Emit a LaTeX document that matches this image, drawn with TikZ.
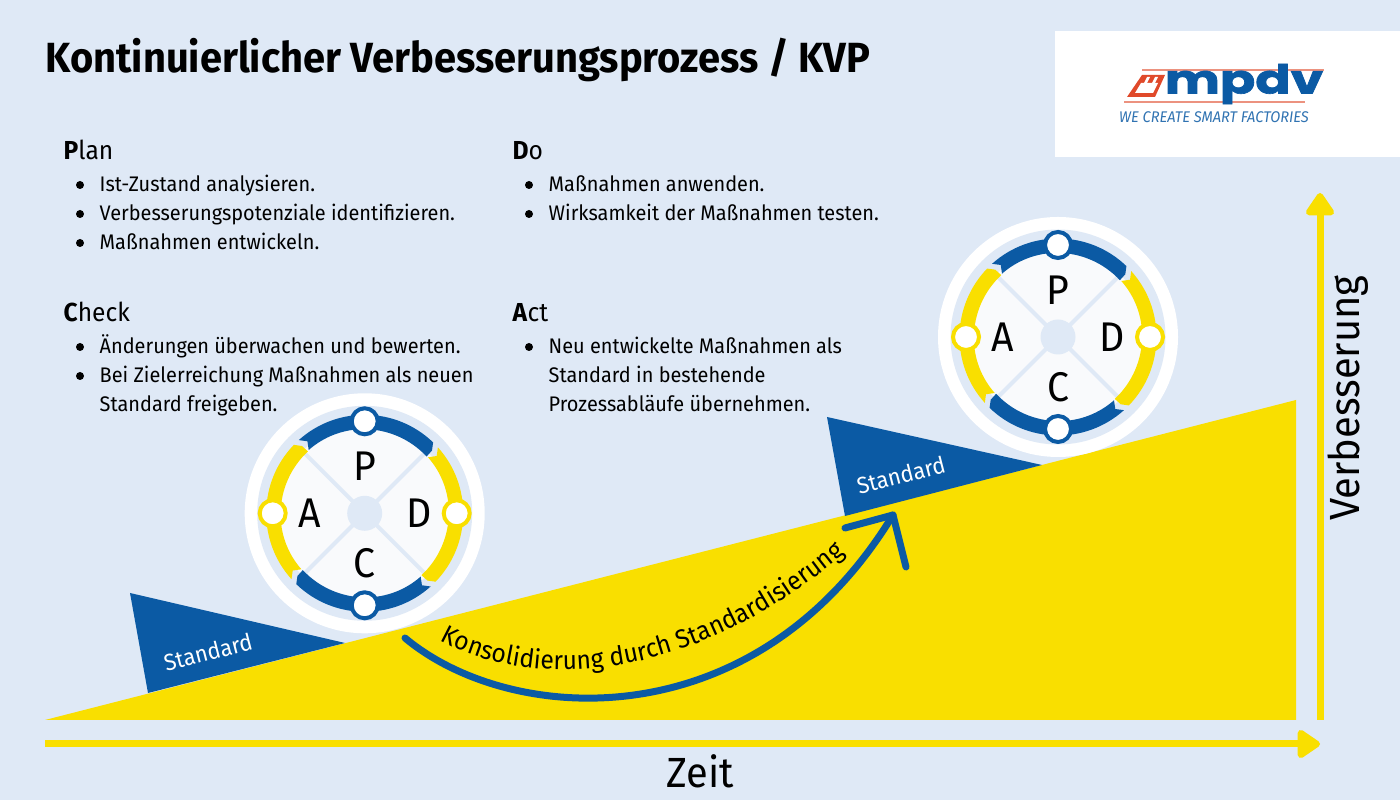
\documentclass[tikz,border=0pt]{standalone}
\usepackage{xcolor}
\usepackage{fontspec}
\setmainfont{Fira Sans}[FakeStretch=0.945]
\newfontfamily\logofont{Poppins}[FakeBold=1.6]
\usetikzlibrary{arrows.meta,decorations.text}
\definecolor{mpbg}{HTML}{DFE9F6}
\definecolor{mpyellow}{HTML}{F9DF00}
\definecolor{mpblue}{HTML}{0B5AA4}
\definecolor{mpred}{HTML}{E0492A}
\definecolor{mpdisc}{HTML}{F9FAFC}
\tikzset{
  itemtext/.style={anchor=base west,inner sep=0pt,font=\fontsize{6}{7}\selectfont},
  headtext/.style={anchor=base west,inner sep=0pt,font=\fontsize{7.4}{9}\selectfont},
  stdtext/.style={inner sep=0pt,white,rotate=14.4,font=\fontsize{6.6}{8}\selectfont},
  axistext/.style={inner sep=0pt,font=\fontsize{12}{14}\selectfont},
  axisline/.style={mpyellow,line width=0.07cm,-{Triangle[length=0.25cm,width=0.32cm,round]}},
  curveline/.style={mpblue,line width=0.07cm,line cap=round,line join=round},
  knob/.style={circle,fill=white,line width=0.04cm,minimum size=0.26cm,inner sep=0pt},
  pics/pdcawheel/.style={code={
    \fill[white] (0,0) circle (1.20);
    \fill[mpbg] (0,0) circle (1.075);
    \fill[mpdisc] (0,0) circle (0.88);
    \foreach \ang in {45,135,225,315}
      \draw[mpbg,line width=0.04cm] (0,0) -- (\ang:0.93);
    \fill[mpbg] (0,0) circle (0.175);
    % bands and knobs, one per quarter
    \foreach \rot/\col/\ltr/\dist in {0/mpblue/P/0.47,-90/mpyellow/D/0.54,180/mpblue/C/0.50,90/mpyellow/A/0.55}{
      \fill[\col,rotate=\rot] (46:0.985) arc[start angle=46,end angle=132,radius=0.985]
        -- (128.5:0.92) -- (131.5:0.845) arc[start angle=131.5,end angle=90,radius=0.83]
        arc[start angle=90,end angle=43,radius=0.86] -- (43:0.92) -- cycle;
      \node[knob,draw=\col] (-knob\ltr) at (\rot+90:0.92) {};
      \node[inner sep=0pt,font=\fontsize{11.8}{13}\selectfont] (-letter\ltr) at (\rot+90:\dist) {\ltr};
    }
  }}
}
\begin{document}
\begin{tikzpicture}
  \useasboundingbox (0,0) rectangle (14,8);
  \fill[mpbg] (0,0) rectangle (14,8);

  % Title
  \node[anchor=base west,inner sep=0pt,font=\fontsize{12}{14}\selectfont\bfseries] (title) at (0.45,7.27) {Kontinuierlicher Verbesserungsprozess / KVP};

  % Logo
  \fill[white] (10.55,6.43) rectangle (14,7.69);
  \draw[mpred!60,line width=0.012cm] (11.42,7.30) -- (13.24,7.30);
  \draw[mpred!60,line width=0.012cm] (11.24,6.98) -- (13.05,6.98);
  \fill[mpred] (11.27,7.03) -- (11.42,7.25) -- (11.65,7.25) -- (11.55,7.03) -- cycle;
  \fill[white] (11.35,7.07) -- (11.53,7.07) -- (11.58,7.17) -- (11.41,7.17) -- cycle;
  \fill[white] (11.44,7.17) -- (11.47,7.17) -- (11.50,7.23) -- (11.47,7.23) -- cycle;
  \fill[white] (11.52,7.17) -- (11.55,7.17) -- (11.58,7.23) -- (11.55,7.23) -- cycle;
  \node[inner sep=0pt,mpblue,font=\logofont\bfseries\fontsize{11.4}{13}\selectfont] (logoname) at (12.44,7.16) {\scalebox{1.30}[1]{mpdv}};
  \node[inner sep=0pt,mpblue!85,font=\fontsize{4.4}{5}\selectfont\itshape] (logotag) at (12.14,6.83) {WE CREATE SMART FACTORIES};

  % Text blocks
  \node[headtext] (plan) at (0.63,6.40) {\textbf{P}lan};
  \node[headtext] (do) at (5.12,6.40) {\textbf{D}o};
  \node[headtext] (check) at (0.63,4.78) {\textbf{C}heck};
  \node[headtext] (act) at (5.12,4.78) {\textbf{A}ct};
  \foreach \px/\py/\txt [count=\i] in {
      0.99/6.08/Ist-Zustand analysieren.,
      0.99/5.79/Verbesserungspotenziale identifizieren.,
      0.99/5.50/Maßnahmen entwickeln.,
      5.48/6.08/Maßnahmen anwenden.,
      5.48/5.79/Wirksamkeit der Maßnahmen testen.,
      0.99/4.46/Änderungen überwachen und bewerten.,
      0.99/4.17/Bei Zielerreichung Maßnahmen als neuen,
      5.48/4.46/Neu entwickelte Maßnahmen als}{
    \node[itemtext] (item\i) at (\px,\py) {\txt};
    \fill (\px-0.19,\py+0.07) circle (0.04);
  }
  \foreach \px/\py/\txt [count=\i] in {
      0.99/3.88/Standard freigeben.,
      5.48/4.17/Standard in bestehende,
      5.48/3.88/Prozessabläufe übernehmen.}
    \node[itemtext] (cont\i) at (\px,\py) {\txt};

  % Wedge and standards
  \fill[mpyellow] (0.45,0.80) -- (12.96,4.00) -- (12.96,0.80) -- cycle;
  \fill[mpblue] (1.30,2.07) -- (1.48,1.07) -- (3.45,1.57) -- cycle;
  \fill[mpblue] (8.27,3.83) -- (8.45,2.84) -- (10.42,3.35) -- cycle;
  \node[stdtext] (std1) at (2.08,1.48) {Standard};
  \node[stdtext] (std2) at (9.01,3.25) {Standard};

  % Wheels
  \pic (lower) at (3.647,2.867) {pdcawheel};
  \pic (upper) at (10.58,4.63) {pdcawheel};

  % Curved arrow
  \coordinate (curvestart) at (4.05,1.62);
  \coordinate (curveend) at (8.93,2.85);
  \coordinate (barbleft) at (8.45,2.72);
  \coordinate (barbright) at (9.06,2.33);
  \draw[curveline] (curvestart) .. controls (5.10,0.74) and (7.55,0.58) .. (curveend);
  \draw[curveline] (barbleft) -- (curveend) -- (barbright);
  \path[decorate,decoration={text along path,text={|\fontsize{7.4}{9}\selectfont|Konsolidierung durch Standardisierung}}]
    (4.40,1.60) .. controls (5.30,1.10) and (6.90,1.12) .. (8.54,2.54);

  % Axes
  \coordinate (origin) at (13.20,0.80);
  \coordinate (timestart) at (0.45,0.56);
  \coordinate (timeend) at (13.20,0.56);
  \coordinate (uptop) at (13.20,6.07);
  \draw[axisline] (timestart) -- (timeend);
  \draw[axisline] (origin) -- (uptop);
  \node[axistext] (zeit) at (7.00,0.29) {Zeit};
  \node[axistext,rotate=90] (verb) at (13.48,4.02) {Verbesserung};
\end{tikzpicture}
\end{document}
